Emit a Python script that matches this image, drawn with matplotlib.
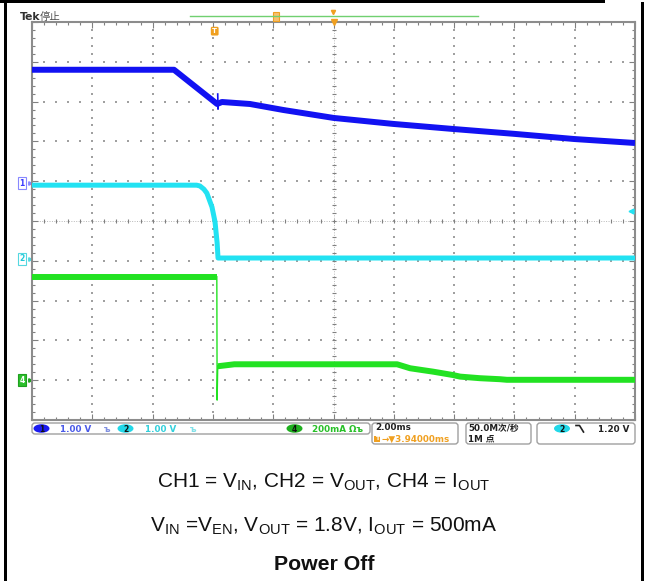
import numpy as np
import matplotlib.pyplot as plt
from matplotlib.patches import Rectangle, FancyBboxPatch, Ellipse
from matplotlib.lines import Line2D
from matplotlib.transforms import Affine2D, blended_transform_factory

plt.rcParams['mathtext.fontset'] = 'custom'
plt.rcParams['mathtext.rm'] = 'Liberation Sans'
plt.rcParams['mathtext.bf'] = 'Liberation Sans:bold'

W, H, DPI = 648, 581, 100

# Scope settings
MS_DIV = 2.0          # ms/div
T_CENTER = 3.94       # ms, trigger -> screen centre
CH1_POS, CH2_POS, CH4_POS = 0.95, -0.95, -4.0   # div
CH1_VDIV, CH2_VDIV, CH4_MADIV = 1.0, 1.0, 200.0
TRIG_LEVEL = 1.20     # V on CH2

# CH1 = V_IN (V)
t_vin = [-6.06, -1.35, 0.08, 0.24, 1.17, 2.27, 3.94, 5.91, 7.94, 9.93, 11.92, 13.94]
vin = [2.85, 2.85, 1.99, 2.04, 1.99, 1.84, 1.64, 1.49, 1.36, 1.24, 1.11, 1.01]
# small glitch on V_IN at the output drop
t_vin_glitch = [0.10, 0.11, 0.12]
vin_glitch = [2.24, 1.86, 2.00]

# CH2 = V_OUT (V)
t_vout = [-6.06, -0.60, -0.49, -0.36, -0.26, -0.09, 0.01, 0.08, 0.11, 13.94]
vout = [1.85, 1.85, 1.83, 1.75, 1.65, 1.30, 0.93, 0.40, 0.02, 0.02]

# CH4 = I_OUT (mA)
t_iout_on = [-6.06, 0.07]
iout_on = [520, 520]
t_iout_step = [0.07, 0.08, 0.10]
iout_step = [520, -100, 70]
t_iout_off = [0.10, 0.65, 6.05, 6.48, 7.24, 7.90, 8.14, 8.80, 9.46, 9.69, 13.94]
iout_off = [70, 80, 80, 60, 43, 26, 18, 10, 5, 2, 2]

captions = [
    'CH1 = V$_\\mathregular{IN}$, CH2 = V$_\\mathregular{OUT}$, CH4 = I$_\\mathregular{OUT}$',
    'V$_\\mathregular{IN}$ =V$_\\mathregular{EN}$, V$_\\mathregular{OUT}$ = 1.8V, I$_\\mathregular{OUT}$ = 500mA',
    'Power Off',
]

BLUE, CYAN, GREEN = '#1212f2', '#22e2f2', '#22e222'
ORANGE = '#f0a020'
CJK = ['DejaVu Sans', 'Noto Sans CJK SC']


def to_div(vals, scale, pos):
    return np.asarray(vals, dtype=float) / scale + pos


fig = plt.figure(figsize=(W / DPI, H / DPI), dpi=DPI)
# pixel coordinates of the picture, y downwards
pix = Affine2D().scale(1 / DPI, -1 / DPI).translate(0, H / DPI) + fig.dpi_scale_trans

ax = fig.add_axes([32 / W, 1 - 420 / H, 603 / W, 398 / H])
xmin, xmax = T_CENTER - 5 * MS_DIV, T_CENTER + 5 * MS_DIV
ax.set_xlim(xmin, xmax)
ax.set_ylim(-5, 5)

# graticule
xs_major = xmin + MS_DIV * np.arange(11)
ys_major = np.arange(-5, 6)
xs_fine = xmin + MS_DIV / 5 * np.arange(51)
ys_fine = -5 + 0.2 * np.arange(51)
for x in xs_major[1:-1]:
    if np.isclose(x, T_CENTER):
        continue
    ax.scatter(np.full_like(ys_fine, x), ys_fine, s=1.4, c='#a0a0a0', marker='s', lw=0, zorder=1)
for y in ys_major[1:-1]:
    if y == 0:
        continue
    ax.scatter(xs_fine, np.full_like(xs_fine, y), s=1.4, c='#a0a0a0', marker='s', lw=0, zorder=1)
ax.axvline(T_CENTER, color='#b8b8b8', lw=0.7, ls=(0, (1, 1.5)), zorder=1)
ax.axhline(0, color='#b8b8b8', lw=0.7, ls=(0, (1, 1.5)), zorder=1)
ax.scatter(np.full_like(ys_fine, T_CENTER), ys_fine, marker='_', s=10, c='#808080', lw=0.8, zorder=1)
ax.scatter(xs_fine, np.zeros_like(xs_fine), marker='|', s=10, c='#808080', lw=0.8, zorder=1)

ax.set_xticks(xs_major)
ax.set_xticks(xs_fine, minor=True)
ax.set_yticks(ys_major)
ax.set_yticks(ys_fine, minor=True)
ax.tick_params(which='both', direction='in', top=True, right=True, labelbottom=False,
               labelleft=False, color='#808080', width=0.8)
ax.tick_params(which='major', length=4)
ax.tick_params(which='minor', length=2.5)
for sp in ax.spines.values():
    sp.set_color('#8c8c8c')
    sp.set_linewidth(1.5)

# traces
ax.plot(t_vin, to_div(vin, CH1_VDIV, CH1_POS), color=BLUE, lw=4.3, solid_capstyle='butt', zorder=5)
ax.plot(t_vin_glitch, to_div(vin_glitch, CH1_VDIV, CH1_POS), color=BLUE, lw=1.2, zorder=5)
ax.plot(t_vout, to_div(vout, CH2_VDIV, CH2_POS), color=CYAN, lw=3.6, solid_capstyle='butt', zorder=5)
ax.plot(t_iout_on, to_div(iout_on, CH4_MADIV, CH4_POS), color=GREEN, lw=4.3, solid_capstyle='butt', zorder=5)
ax.plot(t_iout_step, to_div(iout_step, CH4_MADIV, CH4_POS), color=GREEN, lw=1.0, zorder=5)
ax.plot(t_iout_off, to_div(iout_off, CH4_MADIV, CH4_POS), color=GREEN, lw=4.3, solid_capstyle='butt', zorder=5)

# channel ground markers
bl = blended_transform_factory(ax.transAxes, ax.transData)
for lab, pos, ec, fc, tc in [('1', CH1_POS, '#8888ff', 'white', '#3a3aff'),
                             ('2', CH2_POS, '#55d8e0', 'white', '#20c8d8'),
                             ('4', CH4_POS, '#1fa01f', '#2cbf2c', 'white')]:
    ax.text(-0.0165, pos, lab, transform=bl, ha='center', va='center', fontsize=5.5,
            fontweight='bold', color=tc, clip_on=False,
            bbox=dict(boxstyle='square,pad=0.18', fc=fc, ec=ec, lw=0.8))
    ax.plot([-0.004], [pos], marker='>', ms=2.5, color=ec, transform=bl, clip_on=False)

# trigger level arrow (CH2) and trigger markers
ax.plot([0.993], [TRIG_LEVEL / CH2_VDIV + CH2_POS], marker='<', ms=3.5, color=CYAN,
        transform=bl, clip_on=False, zorder=6)
top = blended_transform_factory(ax.transData, ax.transAxes)
ax.text(0.0, 0.977, 'T', transform=top, ha='center', va='center', fontsize=5, color='white',
        fontweight='bold', bbox=dict(boxstyle='round,pad=0.2', fc=ORANGE, ec='none'), zorder=7)
ax.plot([T_CENTER], [1.0], marker='v', ms=5, color=ORANGE, transform=top, clip_on=False, zorder=7)

# header
fig.add_artist(Line2D([190, 478], [16, 16], transform=pix, color='#70d070', lw=1.0))
fig.add_artist(Rectangle((273, 12), 6, 9, transform=pix, fc='#f6c070', ec=ORANGE, lw=0.8))
fig.add_artist(Line2D([333], [12], transform=pix, marker='v', ms=3, color=ORANGE))
fig.text(20, 17, 'Tek', transform=pix, fontsize=7.8, fontweight='bold', color='#303030',
         va='center', ha='left')
fig.text(40, 17, '停止', transform=pix, fontsize=7.5, color='#505050', va='center', ha='left',
         family=['Noto Sans CJK SC', 'DejaVu Sans'])

# status bar
for x0, y0, w, h in [(32, 423, 338, 11), (372, 423, 86, 21), (466, 423, 65, 21), (537, 423, 98, 21)]:
    fig.add_artist(FancyBboxPatch((x0, y0), w, h, boxstyle='round,pad=0,rounding_size=3',
                                  transform=pix, fc='white', ec='#a0a0a0', lw=1.0))

def badge(x, y, lab, fc):
    fig.add_artist(Ellipse((x, y), 16, 8.5, transform=pix, fc=fc, ec='none'))
    fig.text(x, y + 0.5, lab, transform=pix, ha='center', va='center', fontsize=5.5,
             fontweight='bold', color='#101010')

st = dict(transform=pix, fontsize=6.3, fontweight='bold', va='center', ha='left')
badge(41.5, 428.5, '1', '#1a1af0')
fig.text(60, 429, '1.00 V', color='#4a5ae8', **st)
fig.text(104, 429, 'ъ', color='#8090e0', **st)
badge(125.5, 428.5, '2', '#22d8e8')
fig.text(145, 429, '1.00 V', color='#33d0dc', **st)
fig.text(190, 429, 'ъ', color='#80e0e8', **st)
badge(294.5, 428.5, '4', '#1fb01f')
fig.text(312, 429, '200mA Ωъ', color='#28c028', **st)

fig.text(375, 428, '2.00ms', color='#202020', **st)
fig.text(377, 439, 'T', transform=pix, ha='center', va='center', fontsize=4.5, color='white',
         fontweight='bold', bbox=dict(boxstyle='square,pad=0.15', fc=ORANGE, ec='none'))
fig.text(381, 439, '→▼3.94000ms', transform=pix, fontsize=6.3, fontweight='bold',
         va='center', ha='left', color=ORANGE)
fig.text(468, 428, '50.0M次/秒', transform=pix, fontsize=6.3, va='center', ha='left',
         color='#202020', family=CJK, fontweight='bold')
fig.text(468, 439, '1M 点', transform=pix, fontsize=6.3, va='center', ha='left',
         color='#202020', family=CJK, fontweight='bold')
badge(562, 428.5, '2', '#22d8e8')
fig.add_artist(Line2D([576, 579.5, 583.5], [425.5, 425.5, 432], transform=pix, color='#202020', lw=1.2))
fig.text(598, 429, '1.20 V', color='#202020', **st)

# caption
fig.text(324, 482, captions[0], transform=pix, ha='center', va='center', fontsize=15,
         family='Liberation Sans', color='#111111')
fig.text(324, 526, captions[1], transform=pix, ha='center', va='center', fontsize=15,
         family='Liberation Sans', color='#111111')
fig.text(324, 565, captions[2], transform=pix, ha='center', va='center', fontsize=15.3,
         family='Liberation Sans', fontweight='bold', color='#111111')

# outer frame
fig.add_artist(Rectangle((4, 0), 2.5, H, transform=pix, fc='black', ec='none'))
fig.add_artist(Rectangle((0, 0), 605, 3, transform=pix, fc='black', ec='none'))
fig.add_artist(Rectangle((641, 2), 3, H, transform=pix, fc='black', ec='none'))

fig.savefig('out.png', dpi=DPI)
